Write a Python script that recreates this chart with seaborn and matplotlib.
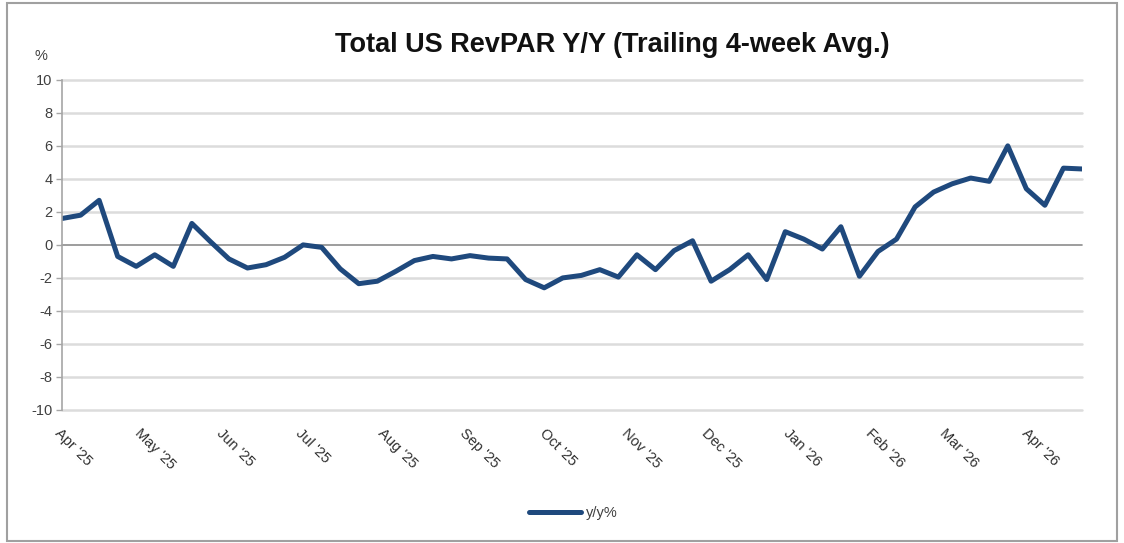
import matplotlib
matplotlib.use("Agg")
import matplotlib.pyplot as plt
import matplotlib.dates as mdates
import matplotlib.patches as patches
import seaborn as sns
import pandas as pd

# weekly trailing 4-week avg
week_start = "2025-04-01"
yoy = [1.6, 1.8, 2.7, -0.7, -1.3, -0.6, -1.3, 1.3, 0.2, -0.85,
       -1.4, -1.2, -0.75, 0.0, -0.15, -1.45, -2.35, -2.2, -1.6, -0.95,
       -0.7, -0.85, -0.65, -0.8, -0.85, -2.1, -2.6, -2.0, -1.85, -1.5,
       -1.95, -0.6, -1.5, -0.35, 0.25, -2.2, -1.5, -0.6, -2.1, 0.8,
       0.35, -0.25, 1.1, -1.9, -0.4, 0.35, 2.3, 3.2, 3.7, 4.05,
       3.85, 6.0, 3.4, 2.4, 4.65, 4.6]
dates = pd.date_range(week_start, periods=len(yoy), freq="7D")
y_ticks = list(range(-10, 11, 2))

df = pd.DataFrame({"date": dates, "y/y%": yoy})

sns.set_style("white")
plt.rcParams["font.family"] = ["Liberation Sans", "DejaVu Sans"]
plt.rcParams["axes.unicode_minus"] = False

fig = plt.figure(figsize=(11.24, 5.43), dpi=100)
ax = fig.add_axes([0.0552, 0.245, 0.9074, 0.608])

line_col = "#1F497D"
sns.lineplot(data=df, x="date", y="y/y%", ax=ax, color=line_col, lw=3.6,
             label="y/y%", legend=False, solid_joinstyle="round",
             solid_capstyle="round")

# gridlines
for t in y_ticks:
    if t == 0:
        ax.axhline(t, color="#8C8C8C", lw=1.2, zorder=1, clip_on=False)
    else:
        ax.axhline(t, color="#DCDCDC", lw=1.8, zorder=0, clip_on=False)

ax.set_ylim(-10, 10)
ax.set_yticks(y_ticks)
ax.set_xlim(dates[0], dates[-1])
ax.xaxis.set_major_locator(mdates.MonthLocator())
ax.xaxis.set_major_formatter(mdates.DateFormatter("%b '%y"))

for s in ["top", "right", "bottom"]:
    ax.spines[s].set_visible(False)
ax.spines["left"].set_color("#A6A6A6")
ax.spines["left"].set_linewidth(1.2)

ax.tick_params(axis="y", left=True, length=4, width=1, color="#A6A6A6",
               labelsize=10.5, labelcolor="#404040", pad=3)
ax.tick_params(axis="x", bottom=False, labelsize=10.5, labelcolor="#303030", pad=8)
for lbl in ax.get_xticklabels():
    lbl.set_rotation(-45)
    lbl.set_ha("left")
    lbl.set_va("top")
    lbl.set_rotation_mode("anchor")

ax.set_xlabel("")
ax.set_ylabel("")

fig.text(0.036, 0.897, "%", fontsize=10.5, color="#404040", ha="center", va="center")
fig.text(0.545, 0.917, "Total US RevPAR Y/Y (Trailing 4-week Avg.)",
         fontsize=19.5, fontweight="bold", color="#111111", ha="center", va="center")

h, l = ax.get_legend_handles_labels()
fig.legend(h, l, loc="center", bbox_to_anchor=(0.51, 0.055), frameon=False,
           handlelength=3.6, handletextpad=0.3, fontsize=10.5, labelcolor="#404040")

fig.patches.append(patches.Rectangle((0.006, 0.004), 0.988, 0.99, transform=fig.transFigure,
                                     fill=False, edgecolor="#A0A0A0", lw=1.5))

fig.savefig("out.png", dpi=100)
